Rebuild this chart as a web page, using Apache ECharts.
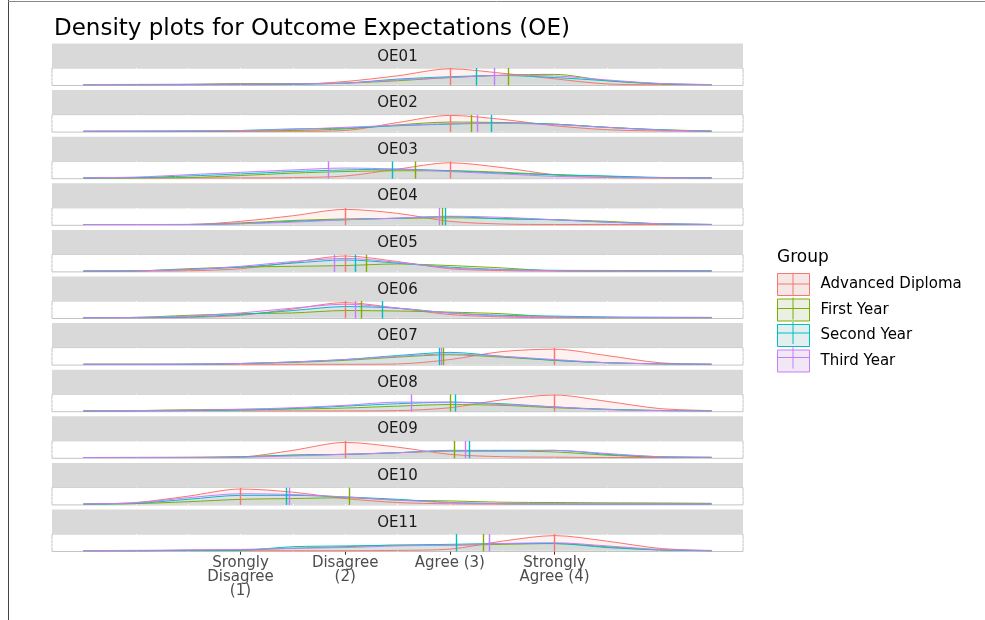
<!DOCTYPE html>
<html>
<head>
<meta charset="utf-8">
<script src="https://cdn.jsdelivr.net/npm/echarts@6/dist/echarts.min.js"></script>
<style>
  html, body { margin: 0; padding: 0; background: #fff; }
  #chart { width: 985px; height: 620px; }
</style>
</head>
<body>
<div id="chart"></div>
<script>
// Facets, groups and the evaluation grid of the density estimates
const items = ['OE01', 'OE02', 'OE03', 'OE04', 'OE05', 'OE06', 'OE07', 'OE08', 'OE09', 'OE10', 'OE11'];
const groups = ['Advanced Diploma', 'First Year', 'Second Year', 'Third Year'];
const xs = [-0.5, 0, 0.5, 1, 1.5, 2, 2.5, 3, 3.5, 4, 4.5, 5, 5.5];
const tickValues = [1, 2, 3, 4];
const tickLabels = ['Srongly\nDisagree\n(1)', 'Disagree\n(2)', 'Agree (3)', 'Strongly\nAgree (4)'];
const guideX = [0, 0.5, 1, 1.5, 2, 2.5, 3, 3.5, 4, 4.5, 5];
const guideY = [0.25, 0.5, 0.75];

// Density (scaled) per item, one row per item, one value per xs point
const densAdvanced = [
  [0, 0, 0, 0, 0.02, 0.2, 0.56, 1.0, 0.72, 0.37, 0.05, 0, 0],
  [0, 0, 0, 0, 0, 0.05, 0.55, 1.0, 0.75, 0.35, 0.1, 0.02, 0],
  [0, 0, 0, 0, 0.02, 0.12, 0.55, 0.95, 0.65, 0.2, 0.02, 0, 0],
  [0, 0, 0, 0.2, 0.55, 0.95, 0.7, 0.2, 0.03, 0, 0, 0, 0],
  [0, 0, 0.02, 0.15, 0.55, 0.95, 0.6, 0.15, 0.03, 0, 0, 0, 0],
  [0, 0, 0.02, 0.15, 0.55, 0.95, 0.6, 0.2, 0.05, 0, 0, 0, 0],
  [0, 0, 0, 0, 0, 0, 0.02, 0.3, 0.8, 0.95, 0.55, 0.1, 0],
  [0, 0, 0, 0, 0, 0, 0.02, 0.2, 0.7, 1.0, 0.6, 0.15, 0.02],
  [0, 0, 0, 0.03, 0.45, 0.95, 0.65, 0.2, 0.05, 0.02, 0, 0, 0],
  [0, 0.1, 0.5, 0.95, 0.75, 0.35, 0.1, 0.02, 0, 0, 0, 0, 0],
  [0, 0, 0, 0, 0, 0, 0.02, 0.1, 0.6, 0.95, 0.6, 0.15, 0]
];
const densFirst = [
  [0, 0, 0.02, 0.07, 0.07, 0.1, 0.25, 0.45, 0.6, 0.65, 0.25, 0.05, 0],
  [0, 0, 0, 0.02, 0.05, 0.15, 0.4, 0.58, 0.55, 0.45, 0.25, 0.1, 0.02],
  [0, 0, 0.02, 0.15, 0.3, 0.4, 0.45, 0.45, 0.35, 0.2, 0.1, 0.01, 0],
  [0, 0, 0, 0.1, 0.25, 0.35, 0.38, 0.42, 0.38, 0.3, 0.2, 0.05, 0],
  [0, 0.01, 0.15, 0.25, 0.3, 0.35, 0.45, 0.35, 0.2, 0.02, 0, 0, 0],
  [0, 0.02, 0.15, 0.25, 0.3, 0.45, 0.42, 0.35, 0.25, 0.05, 0, 0, 0],
  [0, 0, 0, 0.05, 0.12, 0.25, 0.45, 0.6, 0.45, 0.25, 0.1, 0.03, 0],
  [0, 0.02, 0.07, 0.1, 0.12, 0.18, 0.3, 0.4, 0.35, 0.2, 0.1, 0.02, 0],
  [0, 0.01, 0.02, 0.05, 0.15, 0.2, 0.3, 0.4, 0.4, 0.35, 0.15, 0.03, 0.02],
  [0, 0.03, 0.15, 0.3, 0.35, 0.4, 0.25, 0.2, 0.12, 0.1, 0.08, 0.07, 0.05],
  [0, 0, 0.03, 0.05, 0.15, 0.25, 0.35, 0.35, 0.4, 0.45, 0.25, 0.05, 0]
];
const densSecond = [
  [0, 0, 0, 0.02, 0.03, 0.1, 0.35, 0.5, 0.58, 0.45, 0.25, 0.07, 0],
  [0, 0, 0.02, 0.05, 0.15, 0.2, 0.35, 0.45, 0.52, 0.45, 0.25, 0.1, 0],
  [0, 0.02, 0.12, 0.25, 0.4, 0.5, 0.55, 0.45, 0.3, 0.2, 0.12, 0.03, 0],
  [0, 0, 0, 0.05, 0.2, 0.3, 0.4, 0.5, 0.35, 0.3, 0.15, 0.05, 0],
  [0, 0.02, 0.1, 0.25, 0.5, 0.7, 0.5, 0.25, 0.1, 0.05, 0.04, 0.03, 0.02],
  [0, 0, 0.05, 0.2, 0.45, 0.7, 0.6, 0.3, 0.15, 0.1, 0.05, 0.03, 0.02],
  [0, 0, 0.01, 0.05, 0.15, 0.3, 0.55, 0.75, 0.5, 0.25, 0.1, 0.03, 0],
  [0, 0, 0.02, 0.05, 0.15, 0.3, 0.45, 0.55, 0.45, 0.25, 0.1, 0.03, 0.01],
  [0, 0, 0, 0.03, 0.15, 0.2, 0.3, 0.45, 0.45, 0.45, 0.2, 0.05, 0],
  [0, 0.05, 0.3, 0.55, 0.55, 0.45, 0.3, 0.1, 0.03, 0.01, 0, 0, 0],
  [0, 0, 0.02, 0.03, 0.25, 0.3, 0.35, 0.4, 0.45, 0.45, 0.2, 0.05, 0]
];
const densThird = [
  [0.01, 0.02, 0.03, 0.04, 0.05, 0.1, 0.3, 0.45, 0.58, 0.55, 0.3, 0.08, 0.01],
  [0, 0.01, 0.02, 0.05, 0.12, 0.25, 0.38, 0.48, 0.5, 0.42, 0.25, 0.08, 0.01],
  [0.01, 0.05, 0.2, 0.35, 0.5, 0.62, 0.55, 0.4, 0.25, 0.1, 0.04, 0.01, 0],
  [0, 0, 0.01, 0.05, 0.15, 0.3, 0.4, 0.52, 0.45, 0.3, 0.15, 0.05, 0.01],
  [0, 0.02, 0.1, 0.3, 0.6, 0.8, 0.55, 0.2, 0.08, 0.03, 0.02, 0.01, 0],
  [0, 0.02, 0.1, 0.3, 0.6, 0.85, 0.6, 0.3, 0.1, 0.05, 0.02, 0, 0],
  [0, 0, 0.01, 0.05, 0.15, 0.3, 0.5, 0.65, 0.5, 0.3, 0.1, 0.03, 0.01],
  [0.01, 0.02, 0.05, 0.1, 0.2, 0.35, 0.55, 0.55, 0.4, 0.25, 0.08, 0.02, 0.01],
  [0, 0, 0, 0.02, 0.1, 0.2, 0.3, 0.42, 0.4, 0.45, 0.25, 0.05, 0.01],
  [0.01, 0.08, 0.4, 0.65, 0.6, 0.45, 0.25, 0.1, 0.03, 0.01, 0, 0, 0],
  [0.01, 0.02, 0.05, 0.08, 0.15, 0.2, 0.3, 0.35, 0.45, 0.5, 0.3, 0.08, 0.02]
];

// Group means per item (vertical reference lines)
const meanAdvanced = [3.0, 3.0, 3.0, 2.0, 2.0, 2.0, 4.0, 4.0, 2.0, 1.0, 4.0];
const meanFirst    = [3.56, 3.2, 2.67, 2.93, 2.2, 2.15, 2.94, 3.0, 3.04, 2.04, 3.32];
const meanSecond   = [3.25, 3.4, 2.45, 2.96, 2.1, 2.35, 2.9, 3.05, 3.19, 1.44, 3.06];
const meanThird    = [3.42, 3.26, 1.84, 2.9, 1.9, 2.1, 2.92, 2.63, 3.15, 1.47, 3.38];

const colors = ['#F8766D', '#7CAE00', '#00BFC4', '#C77CFF'];
const keyFills = ['#F4E7E6', '#EBEFE4', '#E3EEEF', '#F0E8F4'];
const FONT = '"DejaVu Sans", sans-serif';

const dens = [densAdvanced, densFirst, densSecond, densThird];
const means = [meanAdvanced, meanFirst, meanSecond, meanThird];

// Facet layout
const L = 52, W = 691, TOP0 = 43.5, PITCH = 46.6, STRIP_H = 24.5, PANEL_H = 17.5;

const grids = [], xAxes = [], yAxes = [], series = [], graphics = [];

items.forEach((item, i) => {
  const stripTop = TOP0 + i * PITCH;
  const panelTop = stripTop + STRIP_H;
  const last = i === items.length - 1;

  grids.push({
    left: L, top: panelTop, width: W, height: PANEL_H,
    show: true, backgroundColor: '#FFFFFF', borderColor: '#C4C4C4', borderWidth: 1
  });
  xAxes.push({
    gridIndex: i, type: 'value', min: -0.8, max: 5.8,
    axisLine: { show: false },
    splitLine: { show: false },
    axisTick: last ? { show: true, customValues: tickValues, length: 4, lineStyle: { color: '#333333' } } : { show: false },
    axisLabel: last ? {
      show: true, customValues: tickValues,
      formatter: v => tickLabels[tickValues.indexOf(v)],
      color: '#4D4D4D', fontSize: 15, lineHeight: 14, margin: 5, fontFamily: FONT
    } : { show: false }
  });
  yAxes.push({ gridIndex: i, type: 'value', min: -0.05, max: 1.05, show: false });

  // white guide lines of the panel, kept below the curves
  series.push({
    type: 'line', xAxisIndex: i, yAxisIndex: i, data: [], silent: true, z: 1,
    markLine: {
      z: 1, silent: true, symbol: 'none', label: { show: false },
      lineStyle: { color: '#FFFFFF', width: 1, type: 'solid' },
      data: guideX.map(v => ({ xAxis: v })).concat(guideY.map(v => ({ yAxis: v })))
    }
  });

  groups.forEach((g, k) => {
    series.push({
      name: g, type: 'line', xAxisIndex: i, yAxisIndex: i,
      smooth: 0.3, symbol: 'none', z: 3,
      data: xs.map((x, j) => [x, dens[k][i][j]]),
      lineStyle: { color: colors[k], width: 1 },
      itemStyle: { color: colors[k] },
      areaStyle: { color: colors[k], opacity: 0.1 },
      markLine: {
        z: 4, silent: true, symbol: 'none', label: { show: false },
        lineStyle: { color: colors[k], width: 1.4, type: 'solid', opacity: 1 },
        data: [{ xAxis: means[k][i] }]
      }
    });
  });

  graphics.push({
    type: 'rect', z: 10,
    shape: { x: L, y: stripTop, width: W, height: STRIP_H },
    style: { fill: '#D9D9D9' }
  });
  graphics.push({
    type: 'text', z: 11, x: L + W / 2, y: stripTop + STRIP_H / 2 + 1,
    style: { text: item, fill: '#1A1A1A', font: '15px ' + FONT, align: 'center', verticalAlign: 'middle' }
  });
});

// Legend title and the cross marks inside the legend keys
const LEG_X = 777, LEG_Y = 273, KEY_W = 32, KEY_H = 22, KEY_GAP = 2.5;
graphics.push({
  type: 'text', x: LEG_X, y: 258,
  style: { text: 'Group', fill: '#000000', font: '17px ' + FONT, verticalAlign: 'middle' }
});
groups.forEach((g, k) => {
  const top = LEG_Y + k * (KEY_H + KEY_GAP);
  graphics.push({ type: 'line', z: 20, shape: { x1: LEG_X + KEY_W / 2, y1: top, x2: LEG_X + KEY_W / 2, y2: top + KEY_H }, style: { stroke: colors[k], lineWidth: 1 } });
  graphics.push({ type: 'line', z: 20, shape: { x1: LEG_X, y1: top + KEY_H / 2, x2: LEG_X + KEY_W, y2: top + KEY_H / 2 }, style: { stroke: colors[k], lineWidth: 1 } });
});

// Outer frame (left and top edges)
graphics.push({ type: 'line', shape: { x1: 8.5, y1: 0, x2: 8.5, y2: 620 }, style: { stroke: '#444444', lineWidth: 1 } });
graphics.push({ type: 'line', shape: { x1: 8, y1: 1.5, x2: 985, y2: 1.5 }, style: { stroke: '#888888', lineWidth: 1 } });

const chart = echarts.init(document.getElementById('chart'));
chart.setOption({
  animation: false,
  backgroundColor: '#FFFFFF',
  title: {
    text: 'Density plots for Outcome Expectations (OE)',
    left: 49, top: 13,
    textStyle: { fontSize: 23, fontWeight: 'normal', color: '#000000', fontFamily: FONT }
  },
  legend: {
    left: LEG_X, top: LEG_Y, orient: 'vertical',
    itemWidth: KEY_W, itemHeight: KEY_H, itemGap: KEY_GAP, padding: 0,
    selectedMode: false,
    textStyle: { fontSize: 15, color: '#000000', fontFamily: FONT, padding: [0, 0, 0, 6] },
    data: groups.map((g, k) => ({
      name: g, icon: 'rect',
      itemStyle: { color: keyFills[k], borderColor: colors[k], borderWidth: 1 }
    }))
  },
  grid: grids,
  xAxis: xAxes,
  yAxis: yAxes,
  series: series,
  graphic: graphics
});
</script>
</body>
</html>
